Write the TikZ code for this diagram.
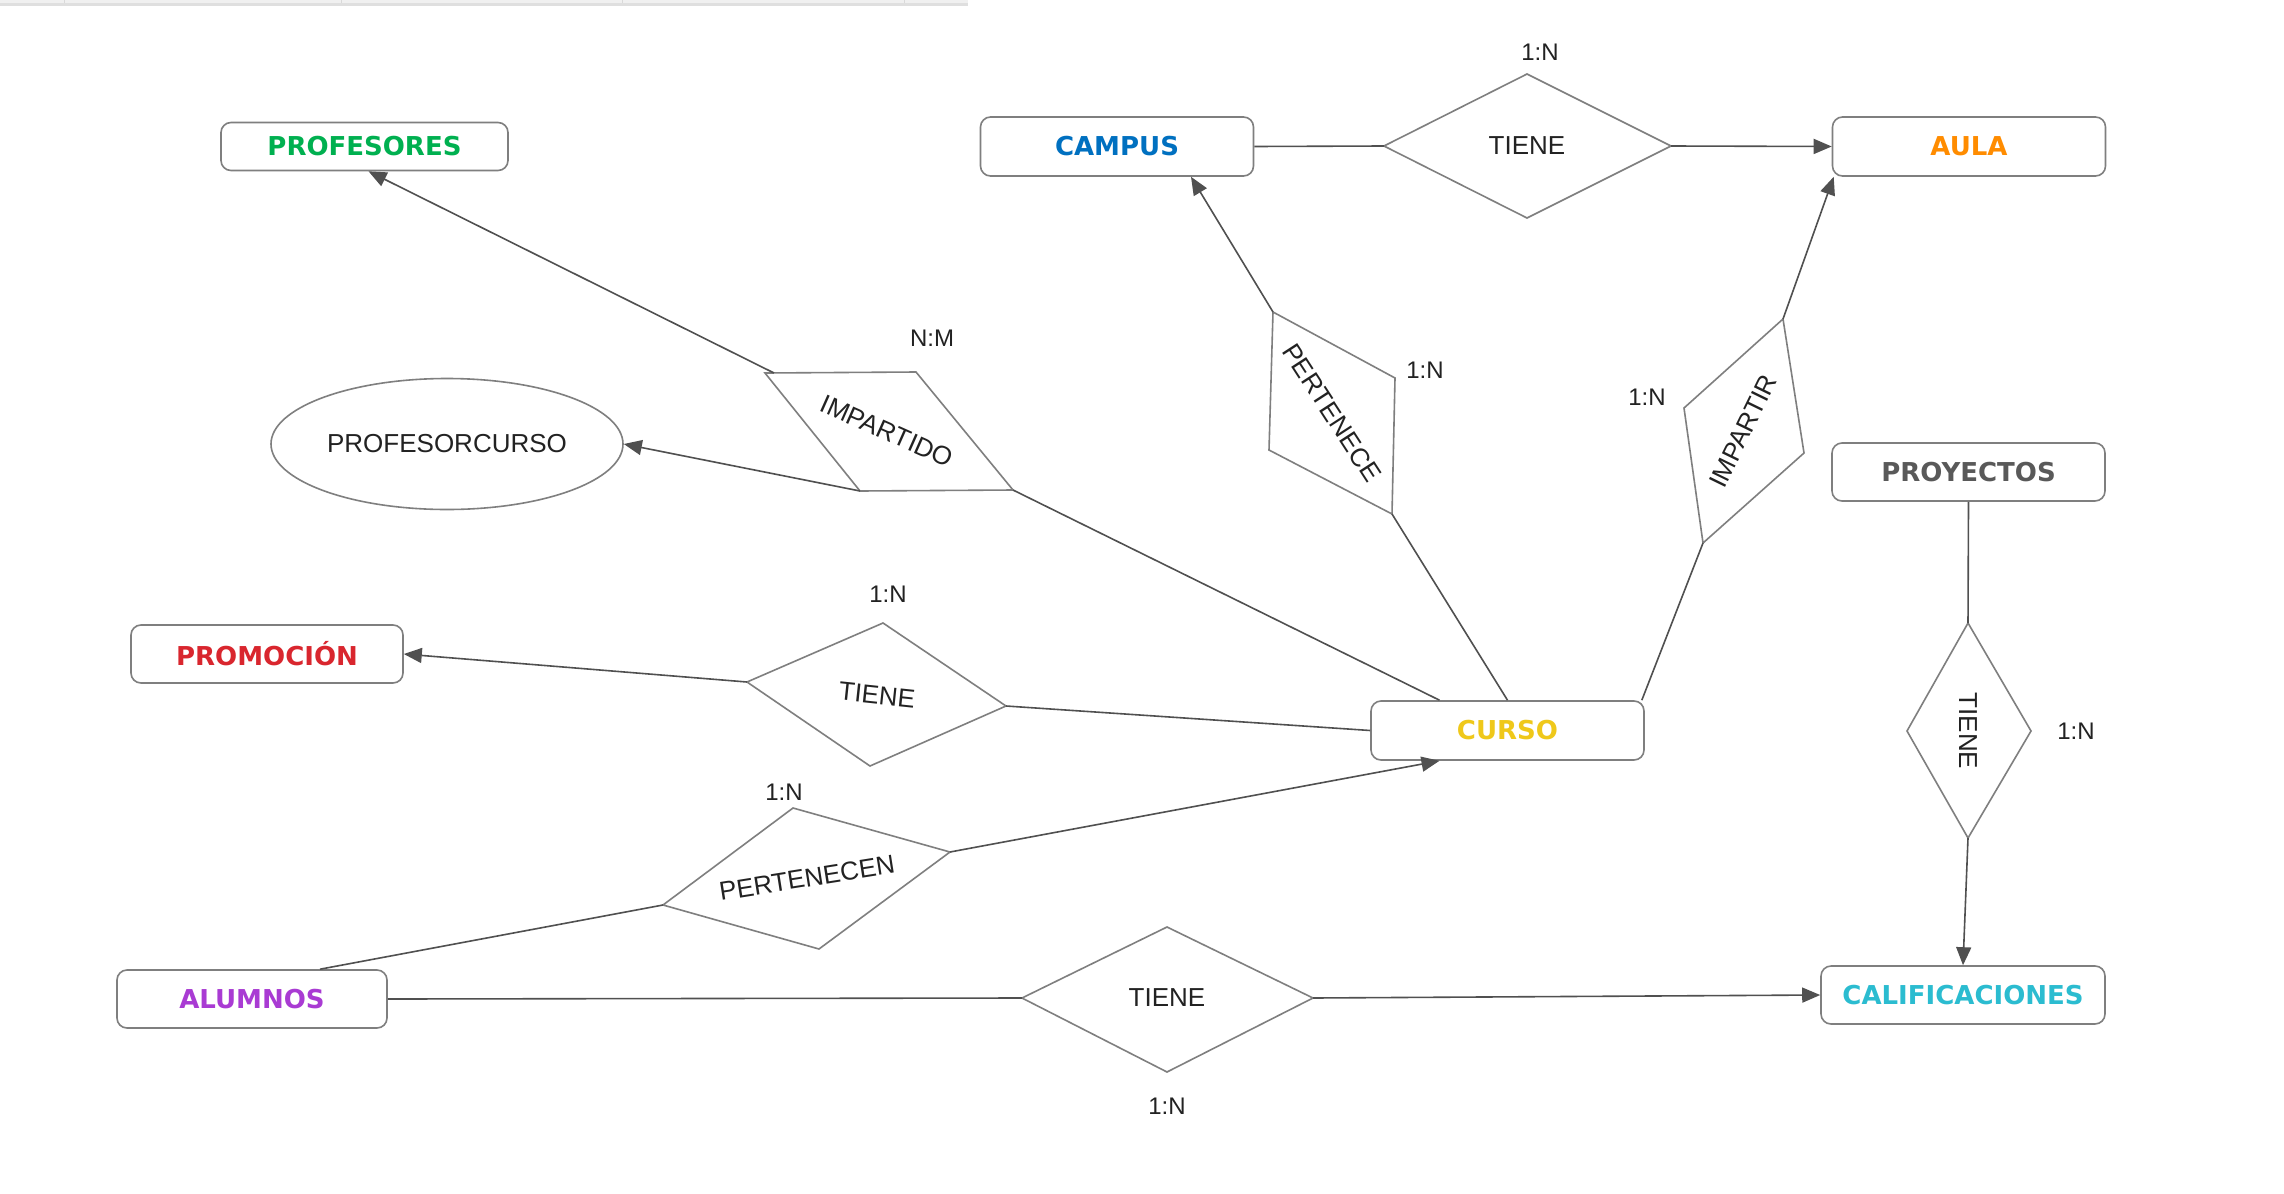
\documentclass[tikz,border=0pt]{standalone}
\usepackage{fontspec}
\setmainfont{Liberation Sans}
\newfontfamily\entfont{DejaVu Sans}
\usetikzlibrary{arrows.meta,calc,shapes.geometric}
\definecolor{conn}{HTML}{505050}
\definecolor{bord}{HTML}{7F7F7F}
\definecolor{txt}{HTML}{222222}
\definecolor{cProf}{HTML}{00B050}
\definecolor{cCamp}{HTML}{0070C0}
\definecolor{cAula}{HTML}{FF8C00}
\definecolor{cProy}{HTML}{595959}
\definecolor{cProm}{HTML}{D9262E}
\definecolor{cCurso}{HTML}{EFC81A}
\definecolor{cAlum}{HTML}{A93BD3}
\definecolor{cCalif}{HTML}{2BBCD0}
\begin{document}
\begin{tikzpicture}[x=1pt,y=-1pt,
  entity/.style={draw=bord,line width=1.6pt,rounded corners=10pt,fill=white,inner sep=0pt,
    font=\entfont\bfseries\fontsize{26}{30}\selectfont},
  relshape/.style={draw=bord,line width=1.6pt,fill=white,line join=miter},
  reltext/.style={text=txt,font=\fontsize{26}{30}\selectfont,inner sep=0pt},
  card/.style={text=txt,font=\fontsize{24}{28}\selectfont,inner sep=0pt},
  link/.style={draw=conn,line width=1.6pt},
  arr/.style={link,-{Triangle[length=18pt,width=15pt]},shorten >=0pt}
]
\useasboundingbox[fill=white] (0,0) rectangle (2284,1194);
% top toolbar remnant
\fill[gray!12] (0,0) rectangle (968,3);
\fill[gray!25] (0,3) rectangle (968,6);
\foreach \xx in {64,341,622,904} \draw[gray!30,line width=1pt] (\xx,0) -- (\xx,3);

% ---------- relationship shape vertices ----------
\coordinate (t1l) at (1384,146); \coordinate (t1t) at (1527,74);
\coordinate (t1r) at (1671,146); \coordinate (t1b) at (1527,218);
\coordinate (ipa) at (765,373); \coordinate (ipb) at (916,372);
\coordinate (ipc) at (1013,490); \coordinate (ipd) at (860,491);
\coordinate (pea) at (1273,312); \coordinate (peb) at (1395,378);
\coordinate (pec) at (1392,514); \coordinate (ped) at (1269,450);
\coordinate (ira) at (1783,319); \coordinate (irb) at (1804,453);
\coordinate (irc) at (1703,543); \coordinate (ird) at (1684,408);
\coordinate (t2l) at (747,682); \coordinate (t2t) at (883,623);
\coordinate (t2r) at (1006,706); \coordinate (t2b) at (870,766);
\coordinate (pnl) at (663,905); \coordinate (pnt) at (793,808);
\coordinate (pnr) at (950,852); \coordinate (pnb) at (819,949);
\coordinate (t3l) at (1022,998); \coordinate (t3t) at (1167,927);
\coordinate (t3r) at (1313,998); \coordinate (t3b) at (1167,1072);
\coordinate (t4t) at (1968,623); \coordinate (t4r) at (2031,731);
\coordinate (t4b) at (1968,838); \coordinate (t4l) at (1907,731);

% ---------- entities ----------
\node[entity,text=cProf,minimum width=287pt,minimum height=48pt] (PROF) at (364.5,146.5) {PROFESORES};
\node[entity,text=cCamp,minimum width=273pt,minimum height=59pt] (CAMPUS) at (1117,146.5) {CAMPUS};
\node[entity,text=cAula,minimum width=273pt,minimum height=59pt] (AULA) at (1969,146.5) {AULA};
\node[entity,text=cProy,minimum width=273pt,minimum height=58pt] (PROY) at (1968.5,472) {PROYECTOS};
\node[entity,text=cProm,minimum width=272pt,minimum height=58pt] (PROM) at (267,654) {PROMOCIÓN};
\node[entity,text=cCurso,minimum width=273pt,minimum height=59pt] (CURSO) at (1507.5,730.5) {CURSO};
\node[entity,text=cAlum,minimum width=270pt,minimum height=58pt] (ALUM) at (252,999) {ALUMNOS};
\node[entity,text=cCalif,minimum width=284pt,minimum height=58pt] (CALIF) at (1963,995) {CALIFICACIONES};
\node[draw=bord,line width=1.6pt,ellipse,fill=white,minimum width=352pt,minimum height=131pt,inner sep=0pt,
  text=txt,font=\fontsize{26}{30}\selectfont] (PC) at (447,444) {PROFESORCURSO};

% ---------- relationship shapes ----------
\draw[relshape] (t1l) -- (t1t) -- (t1r) -- (t1b) -- cycle;
\draw[relshape] (ipa) -- (ipb) -- (ipc) -- (ipd) -- cycle;
\draw[relshape] (pea) -- (peb) -- (pec) -- (ped) -- cycle;
\draw[relshape] (ira) -- (irb) -- (irc) -- (ird) -- cycle;
\draw[relshape] (t2l) -- (t2t) -- (t2r) -- (t2b) -- cycle;
\draw[relshape] (pnl) -- (pnt) -- (pnr) -- (pnb) -- cycle;
\draw[relshape] (t3l) -- (t3t) -- (t3r) -- (t3b) -- cycle;
\draw[relshape] (t4t) -- (t4r) -- (t4b) -- (t4l) -- cycle;

\node[reltext] (r1) at (1527,146) {TIENE};
\node[reltext,rotate=-24] (r2) at (887,431) {IMPARTIDO};
\node[reltext,rotate=-57] (r3) at (1332,413) {PERTENECE};
\node[reltext,rotate=64] (r4) at (1743,431) {IMPARTIR};
\node[reltext,rotate=-6] (r5) at (877,695) {TIENE};
\node[reltext,rotate=9] (r6) at (807,878) {PERTENECEN};
\node[reltext] (r7) at (1167,998) {TIENE};
\node[reltext,rotate=-90] (r8) at (1968,731) {TIENE};

% ---------- cardinalities ----------
\node[card] (c1) at (1540,52) {1:N};
\node[card] (c2) at (932,338) {N:M};
\node[card] (c3) at (1425,370) {1:N};
\node[card] (c4) at (1647,397) {1:N};
\node[card] (c5) at (888,594) {1:N};
\node[card] (c6) at (784,792) {1:N};
\node[card] (c7) at (1167,1106) {1:N};
\node[card] (c8) at (2076,731) {1:N};

% ---------- connectors ----------
\draw[link] (CAMPUS.east) -- (t1l);
\draw[arr] (t1r) -- (AULA.west);
\draw[arr] ($(ipa)+(9,0)$) -- ($(PROF.south)+(4,0)$);
\draw[arr] (ipd) -- (PC.east);
\draw[link] (ipc) -- ($(CURSO.north)+(-68,0)$);
\draw[arr] (pea) -- ($(CAMPUS.south)+(74,0)$);
\draw[link] (pec) -- (CURSO.north);
\draw[arr] (ira) -- ($(AULA.south west)+(2,0)$);
\draw[link] (irc) -- ($(CURSO.north east)+(-3,0)$);
\draw[arr] (t2l) -- (PROM.east);
\draw[link] (t2r) -- (CURSO.west);
\draw[arr] (pnr) -- ($(CURSO.south)+(-68,0)$);
\draw[link] (pnl) -- ($(ALUM.north)+(68,0)$);
\draw[link] (ALUM.east) -- (t3l);
\draw[arr] (t3r) -- (CALIF.west);
\draw[link] (PROY.south) -- (t4t);
\draw[arr] (t4b) -- (CALIF.north);
\end{tikzpicture}
\end{document}
